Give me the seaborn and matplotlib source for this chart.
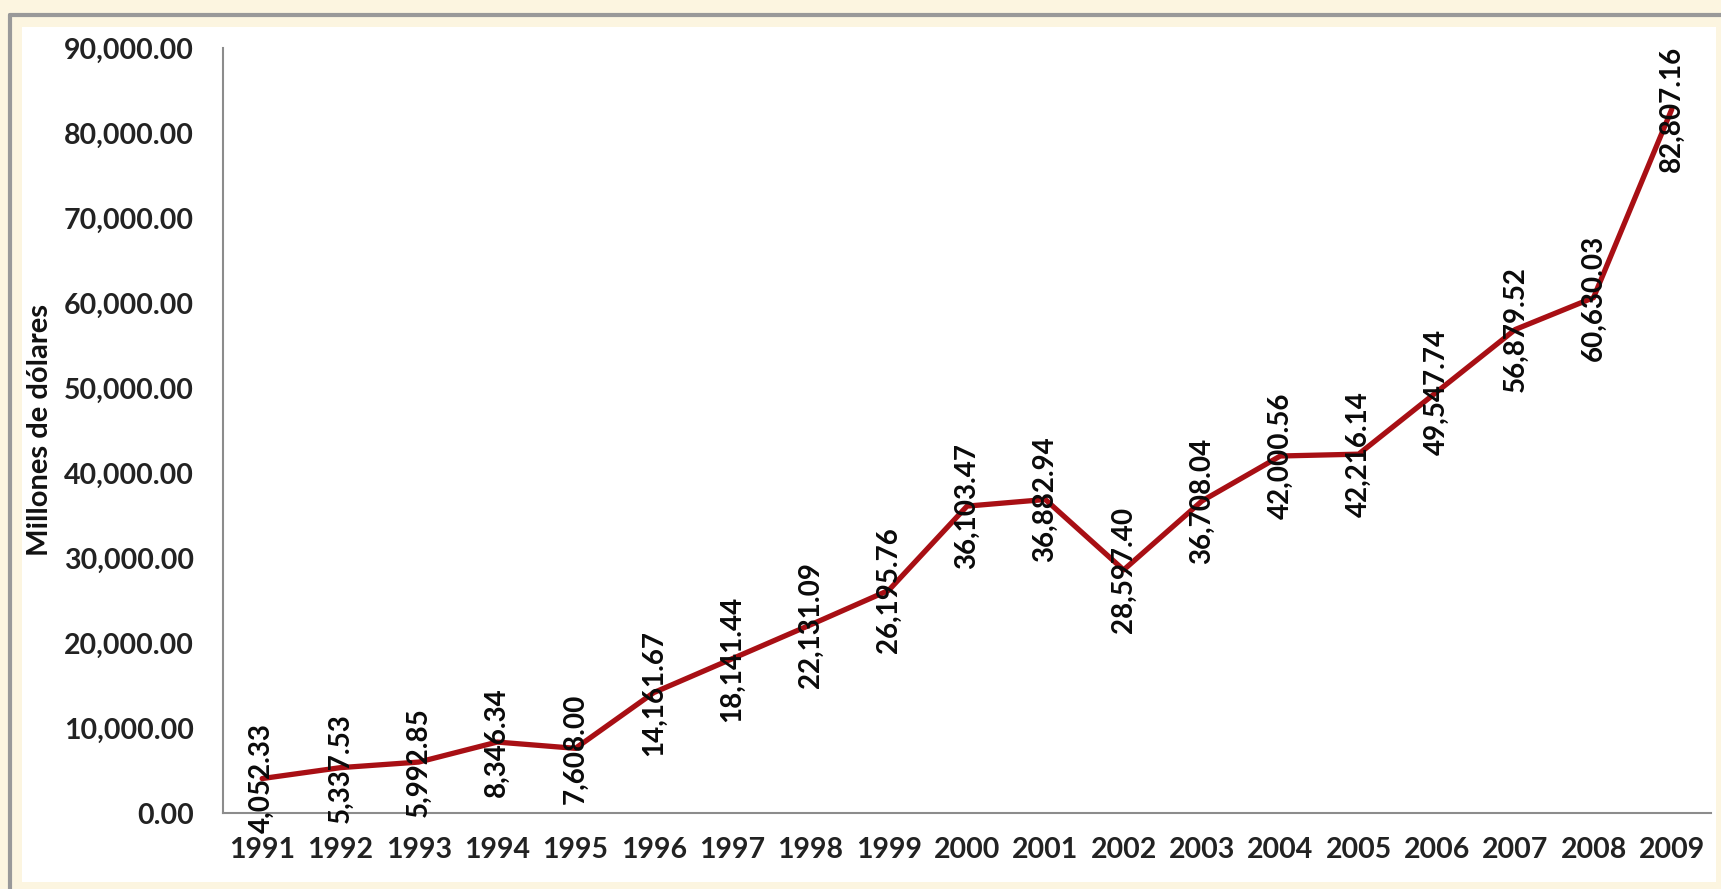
import matplotlib
matplotlib.use("Agg")
import matplotlib.pyplot as plt
import seaborn as sns
import pandas as pd
from matplotlib.patches import Rectangle
from matplotlib.lines import Line2D

years = ['1991', '1992', '1993', '1994', '1995', '1996', '1997', '1998', '1999', '2000',
         '2001', '2002', '2003', '2004', '2005', '2006', '2007', '2008', '2009']
valores = [4052.33, 5337.53, 5992.85, 8346.34, 7608.00, 14161.67, 18141.44, 22131.09,
           26195.76, 36103.47, 36882.94, 28597.40, 36708.04, 42000.56, 42216.14,
           49547.74, 56879.52, 60630.03, 82807.16]
y_ticks = [0, 10000, 20000, 30000, 40000, 50000, 60000, 70000, 80000, 90000]

sns.set_style('white')
plt.rcParams['font.family'] = ['Lato', 'DejaVu Sans']

W, H = 1721, 889
fig = plt.figure(figsize=(W / 100, H / 100), dpi=100)
fig.patch.set_facecolor('#FCF5E0')

# white panel and grey frame line
fig.add_artist(Rectangle((22 / W, 1 - 882 / H), (1716 - 22) / W, (882 - 27) / H,
                         transform=fig.transFigure, facecolor='white', edgecolor='none', zorder=0))
fig.add_artist(Line2D([10 / W, 10 / W], [0, 1 - 15 / H], transform=fig.transFigure,
                      color='#999999', lw=3, zorder=1))
fig.add_artist(Line2D([10 / W, 1], [1 - 15 / H, 1 - 15 / H], transform=fig.transFigure,
                      color='#999999', lw=3, zorder=1))

ax = fig.add_axes([223 / W, 1 - 813 / H, (1711 - 223) / W, (813 - 48) / H])
ax.set_facecolor('none')

df = pd.DataFrame({'year': years, 'valor': valores})
sns.lineplot(data=df, x='year', y='valor', ax=ax, color='#A80F14', lw=3.8, sort=False)

for i, v in enumerate(valores):
    ax.text(i, v, f'{v:,.2f}', rotation=90, ha='center', va='center',
            fontsize=20, fontweight='bold', color='#0a0a0a')

ax.set_xlim(-0.5, len(years) - 0.5)
ax.set_ylim(0, 90000)
ax.set_yticks(y_ticks)
ax.set_yticklabels([f'{t:,.2f}' for t in y_ticks])
ax.tick_params(axis='both', length=0, labelsize=20.5, colors='#222222')
ax.tick_params(axis='y', pad=21)
ax.tick_params(axis='x', pad=17)
for lab in ax.get_xticklabels() + ax.get_yticklabels():
    lab.set_fontweight('bold')

ax.set_xlabel('')
ax.set_ylabel('Millones de dólares', fontsize=21, fontweight='bold', color='#111111')
ax.yaxis.set_label_coords(-0.114, 0.5)

for s in ['top', 'right']:
    ax.spines[s].set_visible(False)
for s in ['left', 'bottom']:
    ax.spines[s].set_color('#8c8c8c')
    ax.spines[s].set_linewidth(1.5)

fig.savefig('out.png', dpi=100, facecolor=fig.get_facecolor())
